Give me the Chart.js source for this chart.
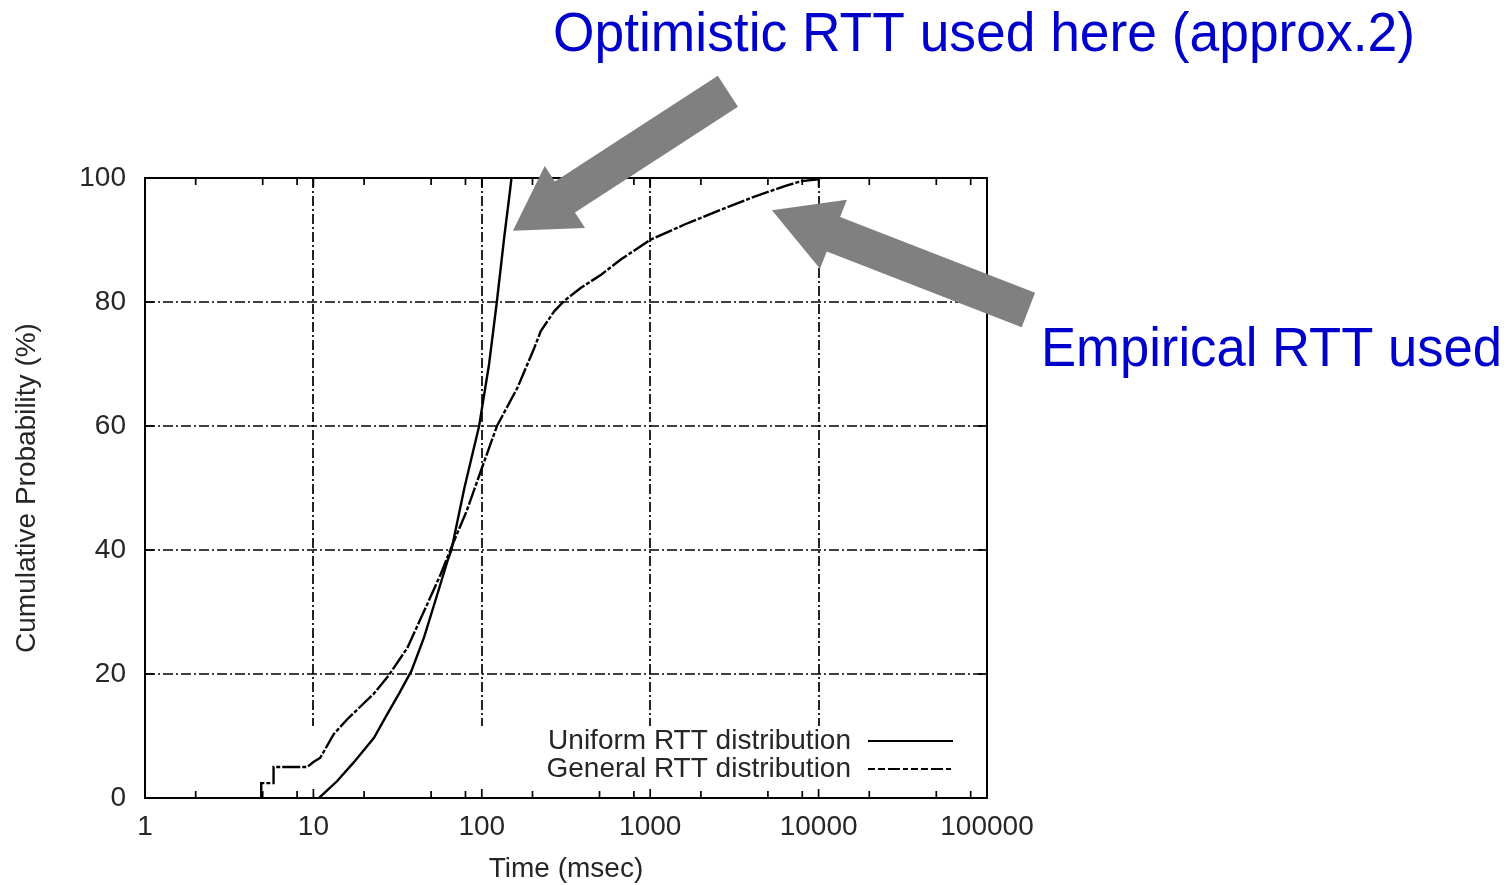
<!DOCTYPE html>
<html>
<head>
<meta charset="utf-8">
<script src="https://cdn.jsdelivr.net/npm/chart.js@4.4.1/dist/chart.umd.min.js"></script>
<style>
  html, body { margin: 0; padding: 0; background: #fff; }
  #wrap { width: 1512px; height: 885px; position: relative; }
</style>
</head>
<body>
<div id="wrap"><canvas id="cdf" width="1512" height="885"></canvas></div>
<script>
// Series: cumulative probability (%) against RTT (msec)
const seriesNames = ['Uniform RTT distribution', 'General RTT distribution'];

const uniformTime = [10.8, 13.8, 17.3, 22.9, 27.4, 32.5, 38.2, 45.4, 54.5, 62.5, 66.0,
                     78.8, 96.4, 110.5, 122.8, 135.8, 147.0, 150.0];
const uniformProb = [0, 2.7, 5.7, 9.7, 13.5, 17.0, 20.5, 25.9, 32.9, 38.2, 40.0,
                     50.0, 60.0, 70.0, 80.0, 90.4, 97.9, 100];

const generalTime = [4.9, 4.9, 5.8, 5.8, 9.2, 10.0, 11.0, 13.2, 15.9, 19.1, 22.8, 27.9,
                     36.1, 47.5, 57.0, 65.0, 81.3, 98.6, 123.0, 163.0, 205.0, 224.0,
                     269.0, 309.0, 388.0, 511.0, 672.0, 1014, 1600, 2529, 3991, 6297,
                     7925, 9960, 10400];
const generalProb = [0, 2.4, 2.4, 5.0, 5.0, 5.8, 6.5, 10.3, 12.7, 14.8, 16.8, 19.7,
                     24.2, 31.3, 36.1, 40.0, 46.3, 52.7, 60.0, 66.2, 72.6, 75.3,
                     78.5, 80.2, 82.3, 84.4, 86.9, 90.1, 92.5, 94.7, 96.8, 98.7,
                     99.5, 99.8, 100];

const xTickValues = [1, 10, 100, 1000, 10000, 100000];
const xMinorFactors = [2, 5, 8];
const yTickValues = [0, 20, 40, 60, 80, 100];

const xTitle = 'Time (msec)';
const yTitle = 'Cumulative Probability (%)';
const noteTop = 'Optimistic RTT used here (approx.2)';
const noteSide = 'Empirical RTT used';

const FONT = '"Liberation Sans", Arial, Helvetica, sans-serif';
const INK = '#262626';
const GRID_DASH = [10, 3, 2, 3];
const GENERAL_DASH = [18, 2, 4, 2];

function toPoints(xs, ys) { return xs.map((t, i) => ({ x: t, y: ys[i] })); }

function line(ctx, x1, y1, x2, y2) {
  ctx.beginPath(); ctx.moveTo(x1, y1); ctx.lineTo(x2, y2); ctx.stroke();
}

// Block arrow from tail to tip, both given in canvas units
function blockArrow(ctx, tip, tail, shaftW, headW, headL) {
  const dx = tail[0] - tip[0], dy = tail[1] - tip[1];
  const len = Math.hypot(dx, dy);
  const ux = dx / len, uy = dy / len;
  const nx = -uy, ny = ux;
  const bx = tip[0] + ux * headL, by = tip[1] + uy * headL;
  ctx.beginPath();
  ctx.moveTo(tip[0], tip[1]);
  ctx.lineTo(bx + nx * headW / 2, by + ny * headW / 2);
  ctx.lineTo(bx + nx * shaftW / 2, by + ny * shaftW / 2);
  ctx.lineTo(tail[0] + nx * shaftW / 2, tail[1] + ny * shaftW / 2);
  ctx.lineTo(tail[0] - nx * shaftW / 2, tail[1] - ny * shaftW / 2);
  ctx.lineTo(bx - nx * shaftW / 2, by - ny * shaftW / 2);
  ctx.lineTo(bx - nx * headW / 2, by - ny * headW / 2);
  ctx.closePath();
  ctx.fill();
}

function fittedText(ctx, text, left, baseline, width, size) {
  ctx.save();
  ctx.font = size + 'px ' + FONT;
  const w = ctx.measureText(text).width;
  ctx.translate(left, baseline);
  ctx.scale(width / w, 1);
  ctx.textAlign = 'left';
  ctx.textBaseline = 'alphabetic';
  ctx.fillText(text, 0, 0);
  ctx.restore();
}

const framePlugin = {
  id: 'frame',
  beforeDatasetsDraw(chart) {
    const { ctx, chartArea: a, scales: { x, y } } = chart;
    ctx.save();
    ctx.strokeStyle = '#000';
    ctx.lineWidth = 1.7;
    ctx.setLineDash(GRID_DASH);
    yTickValues.filter(v => v > 0 && v < 100).forEach(v => {
      const py = Math.round(y.getPixelForValue(v));
      line(ctx, a.left, py, a.right, py);
    });
    // vertical grid stops above the key
    const stop = y.getPixelForValue(11.6);
    xTickValues.slice(1, -1).forEach(v => {
      const px = Math.round(x.getPixelForValue(v));
      line(ctx, px, a.top, px, stop);
    });
    ctx.restore();
  },
  afterDatasetsDraw(chart) {
    const { ctx, chartArea: a, scales: { x, y } } = chart;
    ctx.save();
    ctx.strokeStyle = '#000';
    ctx.lineWidth = 2;
    ctx.setLineDash([]);
    ctx.strokeRect(a.left, a.top, a.right - a.left, a.bottom - a.top);

    // inward tick marks
    ctx.lineWidth = 1.7;
    const major = 9, minor = 7;
    xTickValues.forEach((v, i) => {
      const px = x.getPixelForValue(v);
      line(ctx, px, a.bottom, px, a.bottom - major);
      line(ctx, px, a.top, px, a.top + major);
      if (i < xTickValues.length - 1) {
        xMinorFactors.forEach(f => {
          const mx = x.getPixelForValue(v * f);
          line(ctx, mx, a.bottom, mx, a.bottom - minor);
          line(ctx, mx, a.top, mx, a.top + minor);
        });
      }
    });
    yTickValues.forEach(v => {
      const py = y.getPixelForValue(v);
      line(ctx, a.left, py, a.left + major, py);
      line(ctx, a.right, py, a.right - major, py);
    });

    // key
    ctx.font = '28px ' + FONT;
    ctx.fillStyle = INK;
    ctx.textAlign = 'right';
    ctx.textBaseline = 'middle';
    const rows = [a.bottom - 57, a.bottom - 29];
    chart.data.datasets.forEach((ds, i) => {
      ctx.fillText(ds.label, a.right - 136, rows[i]);
      ctx.setLineDash(i === 1 ? [7, 3, 7, 3, 12, 3, 5, 3] : []);
      ctx.lineWidth = 2;
      line(ctx, a.right - 119, rows[i], a.right - 34, rows[i]);
    });
    ctx.setLineDash([]);

    // axis titles
    ctx.textAlign = 'center';
    ctx.fillText(xTitle, (a.left + a.right) / 2, 869);
    ctx.translate(27, (a.top + a.bottom) / 2);
    ctx.rotate(-Math.PI / 2);
    ctx.fillText(yTitle, 0, 0);
    ctx.restore();
  },
  afterDraw(chart) {
    const { ctx, scales: { x, y } } = chart;
    const P = (t, p) => [x.getPixelForValue(t), y.getPixelForValue(p)];
    ctx.save();
    ctx.fillStyle = '#808080';
    blockArrow(ctx, P(153, 91.5), P(2893, 114), 37, 74, 62);
    blockArrow(ctx, P(5284, 94.8), P(176100, 78.7), 37, 74, 66);
    ctx.fillStyle = '#0000CC';
    fittedText(ctx, noteTop, 553, 51, 862, 56);
    fittedText(ctx, noteSide, 1041, 366, 461, 56);
    ctx.restore();
  }
};

new Chart(document.getElementById('cdf'), {
  type: 'line',
  data: {
    datasets: [
      {
        label: seriesNames[0],
        data: toPoints(uniformTime, uniformProb),
        borderColor: '#000', borderWidth: 2.4, pointRadius: 0, tension: 0, fill: false
      },
      {
        label: seriesNames[1],
        data: toPoints(generalTime, generalProb),
        borderColor: '#000', borderWidth: 2.4, borderDash: GENERAL_DASH,
        pointRadius: 0, tension: 0, fill: false
      }
    ]
  },
  options: {
    responsive: false,
    animation: false,
    devicePixelRatio: 1,
    layout: { padding: { left: 0, right: 1512 - 987, top: 178, bottom: 0 } },
    plugins: { legend: { display: false }, tooltip: { enabled: false } },
    scales: {
      x: {
        type: 'logarithmic', min: 1, max: 100000,
        grid: { display: false, drawTicks: false },
        border: { display: false },
        afterBuildTicks: s => { s.ticks = xTickValues.map(v => ({ value: v })); },
        afterFit: s => { s.height = 87; },
        ticks: {
          autoSkip: false, maxRotation: 0, padding: 12, color: INK,
          font: { family: FONT, size: 28 },
          callback: v => String(v)
        }
      },
      y: {
        type: 'linear', min: 0, max: 100,
        grid: { display: false, drawTicks: false },
        border: { display: false },
        afterBuildTicks: s => { s.ticks = yTickValues.map(v => ({ value: v })); },
        afterFit: s => { s.width = 145; },
        ticks: {
          padding: 19, color: INK,
          font: { family: FONT, size: 28 },
          callback: v => String(v)
        }
      }
    }
  },
  plugins: [framePlugin]
});
</script>
</body>
</html>
